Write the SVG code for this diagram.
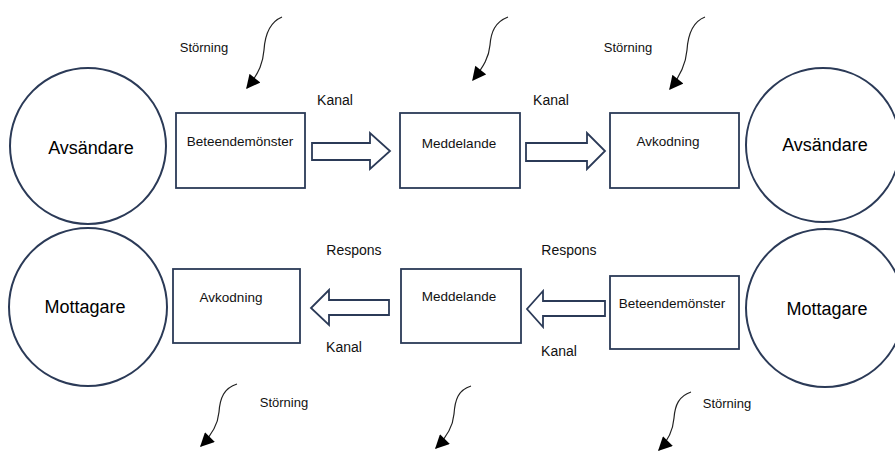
<svg xmlns="http://www.w3.org/2000/svg" width="895" height="451" viewBox="0 0 895 451">
<defs>
<style>
.circ{fill:#fff;stroke:#2b3a57;stroke-width:2}
.box{fill:#fff;stroke:#2b3a57;stroke-width:1.8}
.blk{fill:#fff;stroke:#2b3a57;stroke-width:1.8;stroke-linejoin:miter}
.sq{fill:none;stroke:#222;stroke-width:1.2}
.big{font-family:"Liberation Sans",Arial,sans-serif;font-size:18px;fill:#000;text-anchor:middle}
.lbl{font-family:"Liberation Sans",Arial,sans-serif;font-size:13.5px;fill:#111;text-anchor:middle}
.ch{font-family:"Liberation Sans",Arial,sans-serif;font-size:14px;fill:#111;text-anchor:middle}
.st{font-family:"Liberation Sans",Arial,sans-serif;font-size:13px;fill:#111;text-anchor:middle}
</style>
<marker id="ah" viewBox="0 0 10 10" refX="9" refY="5" markerWidth="15" markerHeight="14" markerUnits="userSpaceOnUse" orient="auto">
<path d="M0,0 L10,5 L0,10 Z" fill="#000"/>
</marker>
</defs>
<rect width="895" height="451" fill="#fff"/>

<g id="avsandare-left"><circle class="circ" cx="88" cy="146" r="78"/><text class="big" x="91" y="154">Avsändare</text></g>
<g id="avsandare-right"><circle class="circ" cx="823" cy="145" r="77"/><text class="big" x="825" y="151">Avsändare</text></g>
<g id="mottagare-left"><circle class="circ" cx="88" cy="307" r="79"/><text class="big" x="85" y="313">Mottagare</text></g>
<g id="mottagare-right"><circle class="circ" cx="825" cy="308" r="79"/><text class="big" x="827" y="315">Mottagare</text></g>

<g id="box-beteende-top"><rect class="box" x="176" y="113" width="129" height="75"/><text class="lbl" x="240" y="146">Beteendemönster</text></g>
<g id="box-meddelande-top"><rect class="box" x="400" y="113" width="120" height="75"/><text class="lbl" x="459" y="148">Meddelande</text></g>
<g id="box-avkodning-top"><rect class="box" x="610" y="113" width="129" height="75"/><text class="lbl" x="668" y="146">Avkodning</text></g>
<g id="box-avkodning-bottom"><rect class="box" x="173" y="269" width="127" height="74"/><text class="lbl" x="231" y="302">Avkodning</text></g>
<g id="box-meddelande-bottom"><rect class="box" x="401" y="269" width="120" height="74"/><text class="lbl" x="459" y="301">Meddelande</text></g>
<g id="box-beteende-bottom"><rect class="box" x="610" y="276" width="129" height="73"/><text class="lbl" x="672" y="308">Beteendemönster</text></g>

<g id="connectors">
<path class="blk" d="M312,143 H370 V133 L390,151 L370,169 V160 H312 Z"/>
<path class="blk" d="M526,143 H587 V133 L605,151 L587,169 V161 H526 Z"/>
<path class="blk" d="M389,300 H329 V290 L311,308 L329,325 V315 H389 Z"/>
<path class="blk" d="M605,301 H543 V291 L527,309 L543,327 V316 H605 Z"/>
<path class="sq" marker-end="url(#ah)" d="M282,17 C270,22 265,35 264,50 C263,62 260,72 247,88"/>
<path class="sq" marker-end="url(#ah)" d="M508,17 C495,22 491,32 490,45 C489,57 484,66 473,80"/>
<path class="sq" marker-end="url(#ah)" d="M705,17 C692,22 688,35 687,50 C686,62 682,74 670,89"/>
<path class="sq" marker-end="url(#ah)" d="M237,384 C224,388 220,398 219,412 C218,424 213,434 201,446"/>
<path class="sq" marker-end="url(#ah)" d="M471,386 C458,390 455,400 454,414 C453,426 448,436 436,448"/>
<path class="sq" marker-end="url(#ah)" d="M691,392 C679,396 675,405 674,418 C673,430 669,440 659,450"/>
</g>

<g id="labels">
<text class="ch" x="335" y="105">Kanal</text>
<text class="ch" x="551" y="105">Kanal</text>
<text class="ch" x="354" y="255">Respons</text>
<text class="ch" x="569" y="255">Respons</text>
<text class="ch" x="344" y="352">Kanal</text>
<text class="ch" x="559" y="356">Kanal</text>
<text class="st" x="204" y="52">Störning</text>
<text class="st" x="628" y="52">Störning</text>
<text class="st" x="284" y="407">Störning</text>
<text class="st" x="727" y="408">Störning</text>
</g>
</svg>
